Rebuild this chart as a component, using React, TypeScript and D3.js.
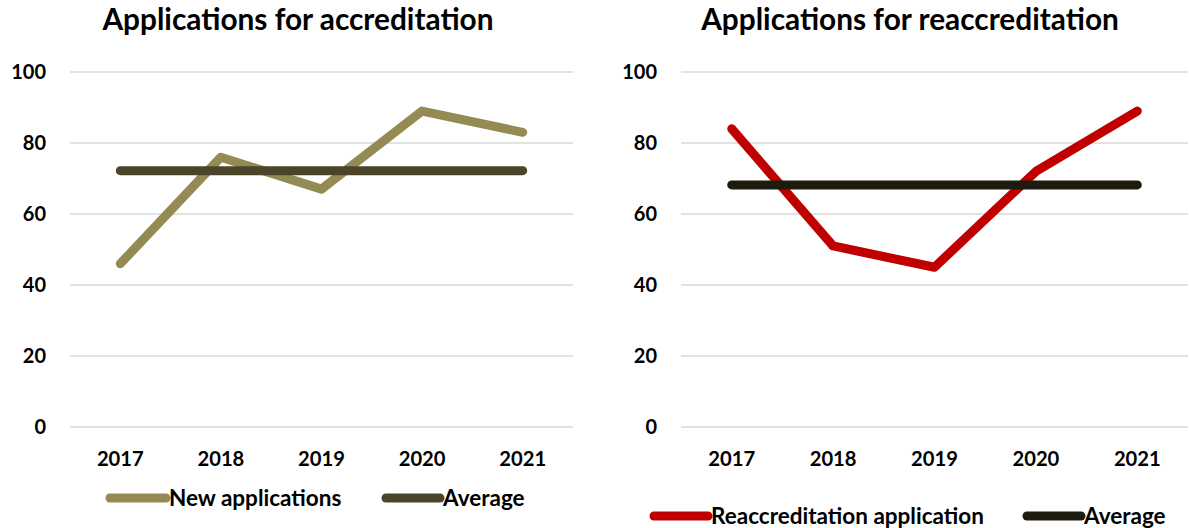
import React from "react";
import * as d3 from "d3";

const years = ["2017", "2018", "2019", "2020", "2021"];
const newApplications = [46, 76, 67, 89, 83];
const newAverage = [72.2, 72.2, 72.2, 72.2, 72.2];
const reaccreditation = [84, 51, 45, 72, 89];
const reAverage = [68.2, 68.2, 68.2, 68.2, 68.2];
const yTicks = [0, 20, 40, 60, 80, 100];

const FONT = "Lato, 'Open Sans', sans-serif";

type Series = { name: string; values: number[]; color: string };

function Panel({
  title,
  x0,
  x1,
  labelX,
  titleX,
  series,
  legendY,
  legend,
}: {
  title: string;
  x0: number;
  x1: number;
  labelX: number;
  titleX: number;
  series: Series[];
  legendY: number;
  legend: { lx0: number; lx1: number }[];
}) {
  const x = d3.scalePoint<string>().domain(years).range([x0, x1]).padding(0.5);
  const y = d3.scaleLinear().domain([0, 100]).range([427, 72]);
  const line = d3
    .line<number>()
    .x((_, i) => x(years[i]) as number)
    .y((d) => y(d));
  return (
    <g>
      <text
        x={titleX}
        y={30}
        textAnchor="middle"
        fontFamily={FONT}
        fontWeight={700}
        fontSize={29.8}
        fill="#000"
      >
        {title}
      </text>
      {yTicks.map((t) => (
        <g key={t}>
          <line x1={x0} x2={x1} y1={y(t)} y2={y(t)} stroke="#D9D9D9" strokeWidth={1.5} />
          <text
            x={labelX}
            y={y(t)}
            dy="0.36em"
            textAnchor="end"
            fontFamily={FONT}
            fontWeight={700}
            fontSize={20}
            fill="#000"
          >
            {t}
          </text>
        </g>
      ))}
      {years.map((yr) => (
        <text
          key={yr}
          x={x(yr)}
          y={465.5}
          textAnchor="middle"
          fontFamily={FONT}
          fontWeight={700}
          fontSize={20.2}
          fill="#000"
        >
          {yr}
        </text>
      ))}
      {series.map((s) => (
        <path
          key={s.name + "l"}
          d={line(s.values) || ""}
          fill="none"
          stroke={s.color}
          strokeWidth={9}
          strokeLinecap="round"
          strokeLinejoin="round"
        />
      ))}
      {series.map((s, i) => (
        <g key={s.name}>
          <line
            x1={legend[i].lx0}
            x2={legend[i].lx1}
            y1={legendY}
            y2={legendY}
            stroke={s.color}
            strokeWidth={9}
            strokeLinecap="round"
          />
          <text
            x={legend[i].lx1 + 3}
            y={legendY}
            dy="0.36em"
            fontFamily={FONT}
            fontWeight={700}
            fontSize={22.5}
            fill="#000"
          >
            {s.name}
          </text>
        </g>
      ))}
    </g>
  );
}

export default function App() {
  return (
    <svg
      width={1189}
      height={528}
      style={{ position: "absolute", left: 0, top: 0, background: "#fff" }}
    >
      <Panel
        title="Applications for accreditation"
        x0={70}
        x1={573}
        labelX={46}
        titleX={298}
        series={[
          { name: "New applications", values: newApplications, color: "#948A54" },
          { name: "Average", values: newAverage, color: "#4A452A" },
        ]}
        legendY={498}
        legend={[
          { lx0: 110, lx1: 166 },
          { lx0: 386, lx1: 440 },
        ]}
      />
      <Panel
        title="Applications for reaccreditation"
        x0={681}
        x1={1188}
        labelX={657}
        titleX={910}
        series={[
          { name: "Reaccreditation application", values: reaccreditation, color: "#C00000" },
          { name: "Average", values: reAverage, color: "#1D1B10" },
        ]}
        legendY={516}
        legend={[
          { lx0: 654, lx1: 708 },
          { lx0: 1027, lx1: 1081 },
        ]}
      />
    </svg>
  );
}
